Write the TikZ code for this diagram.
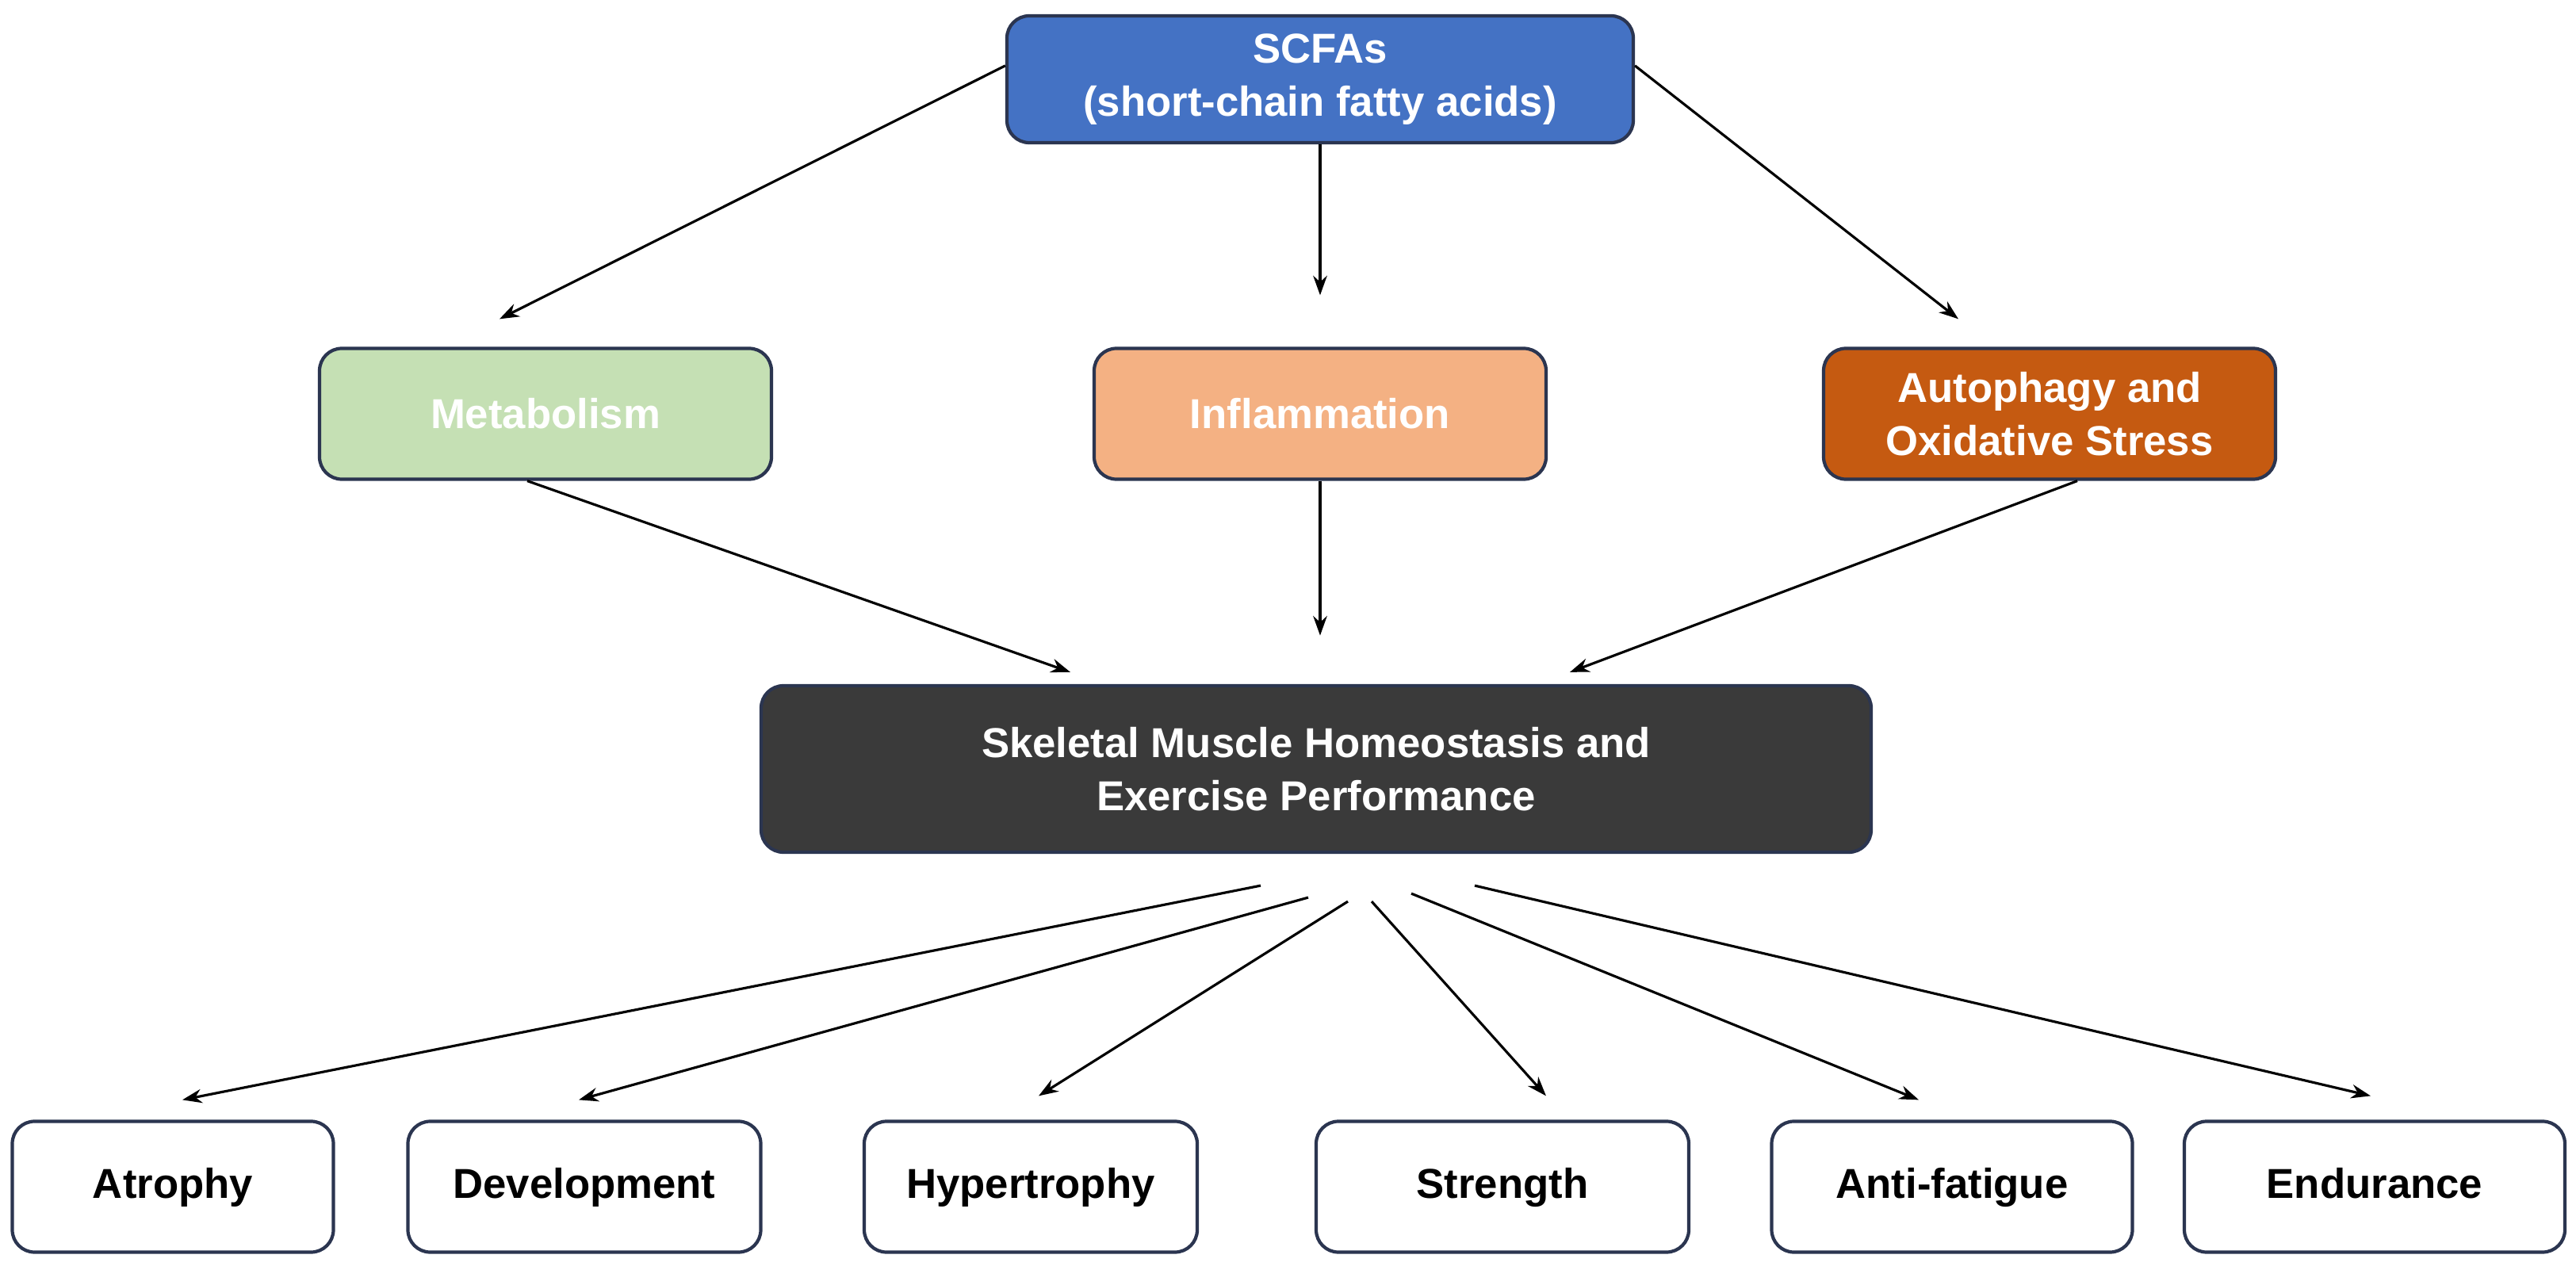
\documentclass[tikz,border=0pt]{standalone}
\usepackage{fontspec}
\setmainfont{Liberation Sans}
\usetikzlibrary{positioning,calc,arrows.meta}
\definecolor{scfablue}{HTML}{4472C4}
\definecolor{metgreen}{HTML}{C5E0B4}
\definecolor{inforange}{HTML}{F4B183}
\definecolor{autobrown}{HTML}{C55A11}
\definecolor{hubgray}{HTML}{3A3A3A}
\definecolor{edgenavy}{HTML}{2B3550}
\tikzset{
  box/.style={draw=edgenavy, line width=1.2pt, rounded corners=8pt, align=center,
    font=\fontsize{15}{19}\selectfont\bfseries, inner sep=0pt},
  mid/.style={box, minimum width=5.7cm, minimum height=1.65cm, text=white},
  leaf/.style={box, fill=white, minimum height=1.65cm, text=black,
    text height=11pt, text depth=3pt},
  arr/.style={-{Stealth[length=7pt,width=5pt]}, line width=0.9pt}
}
\begin{document}
\begin{tikzpicture}
\useasboundingbox (0,0) rectangle (32.49,16.01);
% top
\node[box, fill=scfablue, text=white, minimum width=7.9cm, minimum height=1.6cm] (scfa) at (16.65,15.01) {SCFAs\\(short-chain fatty acids)};
% middle row
\node[mid, fill=metgreen] (met) at (6.88,10.79) {Metabolism};
\node[mid, fill=inforange] (inf) at (16.65,10.79) {Inflammation};
\node[mid, fill=autobrown] (aut) at (25.85,10.79) {Autophagy and\\Oxidative Stress};
% hub
\node[box, fill=hubgray, text=white, minimum width=14cm, minimum height=2.1cm] (hub) at (16.6,6.31) {Skeletal Muscle Homeostasis and\\Exercise Performance};
% outcomes
\node[leaf, minimum width=4.05cm] (atr) at (2.18,1.04) {Atrophy};
\node[leaf, minimum width=4.45cm] (dev) at (7.37,1.04) {Development};
\node[leaf, minimum width=4.2cm] (hyp) at (13.0,1.04) {Hypertrophy};
\node[leaf, minimum width=4.7cm] (str) at (18.95,1.04) {Strength};
\node[leaf, minimum width=4.55cm] (ant) at (24.62,1.04) {Anti-fatigue};
\node[leaf, minimum width=4.8cm] (end) at (29.95,1.04) {Endurance};
% top arrows
\draw[arr] ($(scfa.north west)+(0,-0.65)$) -- ($(met.north)+(-0.58,0.35)$);
\draw[arr] (scfa.south) -- ($(inf.north)+(0,0.65)$);
\draw[arr] ($(scfa.north east)+(0,-0.65)$) -- ($(aut.north)+(-1.15,0.35)$);
\draw[arr] ($(met.south)+(-0.23,0)$) -- ($(hub.north)+(-3.1,0.15)$);
\draw[arr] (inf.south) -- ($(inf.south)+(0,-1.95)$);
\draw[arr] ($(aut.south)+(0.35,0)$) -- ($(hub.north)+(3.2,0.15)$);
% bottom arrows
\draw[arr] ($(hub.south)+(-0.7,-0.4)$) -- ($(atr.north)+(0.12,0.25)$);
\draw[arr] ($(hub.south)+(-0.1,-0.55)$) -- ($(dev.north)+(-0.07,0.25)$);
\draw[arr] ($(hub.south)+(0.4,-0.6)$) -- ($(hyp.north)+(0.1,0.3)$);
\draw[arr] ($(hub.south)+(0.7,-0.6)$) -- ($(str.north)+(0.55,0.3)$);
\draw[arr] ($(hub.south)+(1.2,-0.5)$) -- ($(ant.north)+(-0.42,0.25)$);
\draw[arr] ($(hub.south)+(2.0,-0.4)$) -- ($(end.north)+(-0.05,0.3)$);
\end{tikzpicture}
\end{document}
